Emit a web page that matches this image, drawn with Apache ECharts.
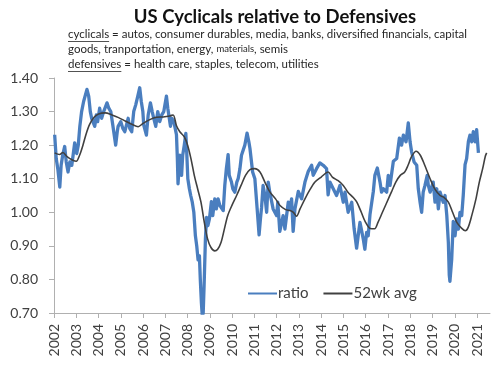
<!DOCTYPE html>
<html><head><meta charset="utf-8">
<script src="https://cdn.jsdelivr.net/npm/echarts@6/dist/echarts.min.js"></script>
<style>html,body{margin:0;padding:0;background:#fff}#c{width:500px;height:371px}</style>
</head><body><div id="c"></div>
<script>
const titleText = 'US Cyclicals relative to Defensives';
const subLine1 = ['cyclicals', ' = autos, consumer durables, media, banks, diversified financials, capital'];
const subLine2 = ['goods, tranportation, energy, ', 'materials', ', semis'];
const subLine3 = ['defensives', ' = health care, staples, telecom, utilities'];
const seriesNames = ['ratio', '52wk avg'];
const yearTicks = [2002,2003,2004,2005,2006,2007,2008,2009,2010,2011,2012,2013,2014,2015,2016,2017,2018,2019,2020,2021];

const ratioDates = [2002.03,2002.10,2002.17,2002.26,2002.32,2002.39,2002.48,2002.55,2002.63,2002.71,2002.80,2002.93,2003.02,2003.09,2003.16,2003.24,2003.33,2003.48,2003.56,2003.63,2003.69,2003.83,2003.90,2003.96,2004.05,2004.14,2004.23,2004.38,2004.46,2004.55,2004.64,2004.77,2004.84,2004.88,2005.00,2005.09,2005.18,2005.33,2005.40,2005.49,2005.58,2005.67,2005.76,2005.85,2005.92,2005.99,2006.03,2006.15,2006.23,2006.33,2006.41,2006.48,2006.57,2006.66,2006.75,2006.84,2006.93,2007.05,2007.11,2007.23,2007.29,2007.38,2007.50,2007.54,2007.57,2007.65,2007.73,2007.78,2007.85,2007.92,2007.96,2008.01,2008.08,2008.14,2008.21,2008.28,2008.35,2008.41,2008.47,2008.53,2008.57,2008.62,2008.66,2008.70,2008.74,2008.80,2008.85,2008.91,2008.98,2009.07,2009.13,2009.22,2009.29,2009.37,2009.45,2009.60,2009.67,2009.74,2009.82,2009.87,2009.97,2010.03,2010.12,2010.21,2010.27,2010.35,2010.42,2010.49,2010.57,2010.67,2010.75,2010.80,2010.92,2011.02,2011.12,2011.21,2011.27,2011.32,2011.39,2011.47,2011.55,2011.62,2011.69,2011.84,2012.00,2012.05,2012.14,2012.29,2012.37,2012.52,2012.59,2012.67,2012.74,2012.82,2012.97,2013.12,2013.27,2013.42,2013.57,2013.64,2013.79,2013.94,2014.09,2014.24,2014.31,2014.39,2014.54,2014.69,2014.84,2014.99,2015.07,2015.21,2015.37,2015.48,2015.59,2015.66,2015.74,2015.89,2015.96,2016.04,2016.11,2016.19,2016.34,2016.41,2016.52,2016.64,2016.71,2016.79,2016.94,2017.01,2017.09,2017.24,2017.39,2017.51,2017.61,2017.69,2017.81,2017.91,2017.99,2018.06,2018.17,2018.29,2018.36,2018.44,2018.51,2018.58,2018.66,2018.76,2018.81,2018.89,2019.03,2019.11,2019.19,2019.26,2019.34,2019.48,2019.56,2019.64,2019.71,2019.75,2019.78,2019.86,2019.93,2020.01,2020.09,2020.16,2020.23,2020.31,2020.38,2020.46,2020.53,2020.61,2020.68,2020.76,2020.83,2020.91,2020.98,2021.06];
const ratioValues = [1.231,1.16,1.13,1.075,1.14,1.17,1.196,1.15,1.12,1.15,1.14,1.207,1.175,1.20,1.256,1.30,1.33,1.366,1.345,1.30,1.28,1.256,1.29,1.27,1.31,1.28,1.30,1.326,1.31,1.30,1.26,1.20,1.24,1.256,1.27,1.25,1.24,1.28,1.25,1.24,1.30,1.32,1.345,1.371,1.33,1.30,1.26,1.23,1.29,1.326,1.30,1.28,1.256,1.30,1.27,1.29,1.30,1.346,1.31,1.256,1.28,1.27,1.231,1.16,1.085,1.17,1.11,1.17,1.20,1.235,1.18,1.10,1.07,1.05,1.03,1.00,0.93,0.90,0.858,0.87,0.80,0.73,0.69,0.70,0.78,0.92,0.985,0.96,0.98,1.032,0.99,1.04,1.01,1.04,1.02,1.005,1.08,1.13,1.172,1.11,1.09,1.07,1.06,1.09,1.10,1.13,1.17,1.17,1.20,1.236,1.21,1.19,1.12,1.10,1.013,0.933,0.98,1.013,1.08,1.05,1.00,1.09,1.06,1.01,0.99,1.03,0.943,0.99,0.95,1.03,1.01,1.04,0.943,1.01,1.062,1.04,1.09,1.122,1.14,1.11,1.13,1.147,1.14,1.13,1.052,1.09,1.07,1.05,1.08,1.03,1.06,1.00,1.03,0.95,0.893,0.93,0.97,0.92,0.89,0.94,0.93,0.993,1.062,1.11,1.132,1.09,1.06,1.07,1.06,1.11,1.08,1.152,1.16,1.221,1.20,1.23,1.21,1.266,1.21,1.18,1.15,1.14,1.07,1.03,1.00,1.06,1.08,1.11,1.08,1.06,1.09,1.03,1.07,1.01,1.06,1.03,1.05,0.99,0.91,0.814,0.794,0.86,0.973,0.93,0.98,0.95,1.00,0.99,1.052,1.142,1.16,1.211,1.23,1.21,1.24,1.21,1.246,1.177];

const avgDates = [2002.03,2002.25,2002.40,2002.60,2002.85,2003.00,2003.15,2003.30,2003.45,2003.60,2003.80,2004.00,2004.30,2004.60,2004.90,2005.20,2005.50,2005.78,2006.00,2006.30,2006.60,2006.90,2007.20,2007.35,2007.50,2007.65,2007.85,2008.00,2008.15,2008.30,2008.45,2008.60,2008.75,2008.90,2009.05,2009.22,2009.35,2009.50,2009.65,2009.80,2010.00,2010.20,2010.40,2010.60,2010.80,2011.02,2011.25,2011.47,2011.70,2011.95,2012.15,2012.40,2012.60,2012.75,2012.89,2013.05,2013.27,2013.50,2013.72,2014.00,2014.31,2014.50,2014.76,2014.99,2015.20,2015.44,2015.60,2015.80,2015.97,2016.20,2016.40,2016.55,2016.75,2016.95,2017.15,2017.35,2017.55,2017.75,2017.90,2018.05,2018.26,2018.45,2018.65,2018.89,2019.10,2019.34,2019.50,2019.71,2019.90,2020.09,2020.30,2020.47,2020.60,2020.76,2020.95,2021.10,2021.25,2021.37,2021.43];
const avgValues = [1.177,1.172,1.178,1.165,1.155,1.152,1.17,1.20,1.235,1.262,1.283,1.293,1.296,1.29,1.282,1.272,1.262,1.255,1.265,1.276,1.283,1.284,1.287,1.29,1.258,1.24,1.225,1.20,1.16,1.11,1.07,1.03,0.97,0.92,0.895,0.885,0.89,0.91,0.95,0.99,1.022,1.05,1.08,1.11,1.127,1.13,1.12,1.09,1.06,1.04,1.02,1.008,1.005,1.00,0.988,1.01,1.04,1.068,1.09,1.105,1.12,1.105,1.094,1.08,1.06,1.044,1.03,1.00,0.973,0.952,0.951,0.97,1.00,1.03,1.06,1.09,1.11,1.12,1.14,1.165,1.182,1.17,1.14,1.10,1.07,1.05,1.045,1.03,1.00,0.97,0.953,0.945,0.955,0.99,1.04,1.09,1.13,1.167,1.177];

const FONT = 'Lato, "Open Sans", sans-serif';
const TXT = '#262626';
const AXIS = '#404040';

const ctx = document.createElement('canvas').getContext('2d');
function w(text, size, weight) { ctx.font = (weight || 'normal') + ' ' + size + 'px Lato'; return ctx.measureText(text).width; }

const SUB = 11.5;
const subX = 68;
const u1 = w(subLine1[0], SUB);
const u3 = w(subLine3[0], SUB);

const chart = echarts.init(document.getElementById('c'), null, {renderer: 'canvas'});
chart.setOption({
  backgroundColor: '#ffffff',
  animation: false,
  grid: {left: 54, right: 10, top: 78, bottom: 58, containLabel: false},
  xAxis: {
    type: 'value', min: 2002, max: 2021.58, interval: 1,
    axisLine: {show: true, lineStyle: {color: '#b0b0b0', width: 1}},
    axisTick: {show: true, length: 5, customValues: yearTicks, lineStyle: {color: '#b0b0b0'}},
    axisLabel: {customValues: yearTicks, rotate: 90, margin: 11, fontSize: 14, color: AXIS, fontFamily: FONT, formatter: v => String(Math.round(v))},
    splitLine: {show: false}
  },
  yAxis: {
    type: 'value', min: 0.7, max: 1.4, interval: 0.1,
    axisLine: {show: true, lineStyle: {color: '#b0b0b0', width: 1}},
    axisTick: {show: true, length: 5, lineStyle: {color: '#b0b0b0'}},
    axisLabel: {margin: 16, fontSize: 14, color: AXIS, fontFamily: FONT, formatter: v => v.toFixed(2)},
    splitLine: {show: false}
  },
  legend: {
    data: seriesNames, left: 242, top: 281, itemWidth: 29, itemHeight: 10, itemGap: 14,
    itemStyle: {color: 'transparent', borderColor: 'transparent', borderWidth: 0, opacity: 0},
    textStyle: {fontSize: 15, color: AXIS, fontFamily: FONT, padding: [0, 0, 0, -4]}
  },
  series: [
    {name: seriesNames[0], type: 'line', symbol: 'none', clip: true,
     data: ratioDates.map((d, i) => [d, ratioValues[i]]),
     lineStyle: {color: '#4a7ebf', width: 3.3, join: 'round'}, itemStyle: {color: '#4a7ebf'}, z: 2},
    {name: seriesNames[1], type: 'line', symbol: 'none', clip: true, smooth: 0.3,
     data: avgDates.map((d, i) => [d, avgValues[i]]),
     lineStyle: {color: '#404040', width: 1.6}, itemStyle: {color: '#404040'}, z: 3}
  ],
  graphic: [
    {type: 'text', x: 275, y: 8, style: {text: titleText, font: 'bold 18.5px Lato', fill: '#111', align: 'center'}},
    {type: 'text', x: subX, y: 28, style: {
      text: '{u|' + subLine1[0] + '}' + subLine1[1],
      font: SUB + 'px Lato', fill: TXT, rich: {u: {font: SUB + 'px Lato', fill: TXT}}}},
    {type: 'text', x: subX, y: 43, style: {
      text: subLine2[0] + '{s|' + subLine2[1] + '}' + subLine2[2],
      font: SUB + 'px Lato', fill: TXT, rich: {s: {font: '9.5px Lato', fill: TXT}}}},
    {type: 'text', x: subX, y: 58, style: {
      text: '{u|' + subLine3[0] + '}' + subLine3[1],
      font: SUB + 'px Lato', fill: TXT, rich: {u: {font: SUB + 'px Lato', fill: TXT}}}},
    {type: 'line', shape: {x1: subX, y1: 41.5, x2: subX + u1, y2: 41.5}, style: {stroke: TXT, lineWidth: 0.8}},
    {type: 'line', shape: {x1: subX, y1: 71.5, x2: subX + u3, y2: 71.5}, style: {stroke: TXT, lineWidth: 0.8}}
  ]
});
</script></body></html>
